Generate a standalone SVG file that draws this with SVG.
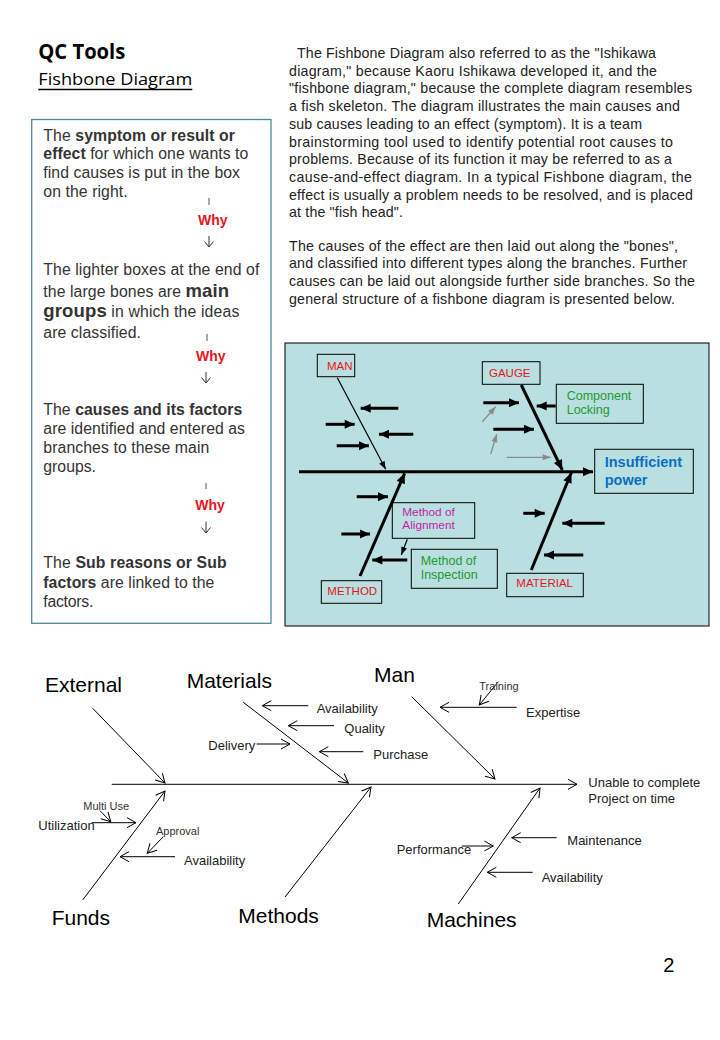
<svg xmlns="http://www.w3.org/2000/svg" width="720" height="1040" viewBox="0 0 720 1040">
<style>
.t{font-family:"Liberation Sans",Arial,sans-serif}
.panel{font-family:"Liberation Sans",Arial,sans-serif;font-size:15.8px;fill:#333}
.b{font-weight:bold}
.big{font-weight:bold;font-size:18.5px}
.why{font-family:"Liberation Sans",Arial,sans-serif;font-size:14px;font-weight:bold;fill:#e8141c}
.para{font-family:"Liberation Sans",Arial,sans-serif;font-size:14.2px;fill:#222}
.box{fill:none;stroke:#000;stroke-width:1}
.red{font-family:"Liberation Sans",Arial,sans-serif;font-size:11.5px;fill:#e8141c}
.grn{font-family:"Liberation Sans",Arial,sans-serif;font-size:12.5px;fill:#1e9a2e}
.mag{font-family:"Liberation Sans",Arial,sans-serif;font-size:11.8px;fill:#c21fa8}
.blu{font-family:"Liberation Sans",Arial,sans-serif;font-size:14.5px;font-weight:bold;fill:#0a6fc2}
.thick{stroke:#000;stroke-width:3;fill:none;marker-end:url(#solid)}
.thin{stroke:#000;stroke-width:1.2;fill:none;marker-end:url(#solidsm)}
.gray{stroke:#8a8a8a;stroke-width:1.3;fill:none;marker-end:url(#graysm)}
.ln{stroke:#000;stroke-width:1;fill:none;marker-end:url(#open)}
.lbl{font-family:"Liberation Sans",Arial,sans-serif;font-size:21px;fill:#000}
.mid{font-family:"Liberation Sans",Arial,sans-serif;font-size:13px;fill:#222}
.sm{font-family:"Liberation Sans",Arial,sans-serif;font-size:11px;fill:#333}
</style>
<defs>
<marker id="solid" markerUnits="userSpaceOnUse" markerWidth="11" markerHeight="10" refX="10" refY="4.5" orient="auto" overflow="visible"><path d="M0,0 L10,4.5 L0,9 z" fill="#000"/></marker>
<marker id="solidsm" markerUnits="userSpaceOnUse" markerWidth="9" markerHeight="7" refX="8" refY="3" orient="auto" overflow="visible"><path d="M0,0 L8,3 L0,6 z" fill="#000"/></marker>
<marker id="graysm" markerUnits="userSpaceOnUse" markerWidth="9" markerHeight="7" refX="8" refY="3" orient="auto" overflow="visible"><path d="M0,0 L8,3 L0,6 z" fill="#8a8a8a"/></marker>
<marker id="open" markerUnits="userSpaceOnUse" markerWidth="10" markerHeight="12" refX="9" refY="5" orient="auto" overflow="visible"><path d="M0,0 L9,5 L0,10" fill="none" stroke="#000" stroke-width="1"/></marker>
</defs>
<rect width="720" height="1040" fill="#fff"/>

<g id="title">
<text x="38.3" y="59.3" font-family="'Open Sans','Liberation Sans',sans-serif" font-size="21" font-weight="bold" textLength="87" lengthAdjust="spacingAndGlyphs">QC Tools</text>
<text x="38.3" y="85" font-family="'Open Sans','Liberation Sans',sans-serif" font-size="17" textLength="154" lengthAdjust="spacingAndGlyphs">Fishbone Diagram</text>
<line x1="38.3" y1="89.5" x2="192.3" y2="89.5" stroke="#000" stroke-width="1.3"/>
</g>

<g id="left-panel">
<rect x="31.7" y="119.5" width="239.3" height="503.8" fill="#fff" stroke="#4f8a94" stroke-width="1.3"/>
<text class="panel" x="43.3" y="140.7" textLength="191.7">The <tspan class="b">symptom or result or</tspan></text>
<text class="panel" x="43.3" y="159.3" textLength="205"><tspan class="b">effect</tspan> for which one wants to</text>
<text class="panel" x="43.3" y="178.3" textLength="196.7">find causes is put in the box</text>
<text class="panel" x="43.3" y="196.7" textLength="84.4">on the right.</text>
<line x1="209" y1="198" x2="209" y2="205" stroke="#555" stroke-width="1"/>
<text class="why" x="198" y="225">Why</text>
<path d="M209,236 V247 M204.5,241.5 L209,247 L213.5,241.5" stroke="#333" stroke-width="1" fill="none"/>
<text class="panel" x="43.3" y="275" textLength="216">The lighter boxes at the end of</text>
<text class="panel" x="43.3" y="296.7" textLength="185.7">the large bones are <tspan class="big">main</tspan></text>
<text class="panel" x="43.3" y="317.3" textLength="196"><tspan class="big">groups</tspan> in which the ideas</text>
<text class="panel" x="43.3" y="338.3" textLength="97.7">are classified.</text>
<line x1="207" y1="334" x2="207" y2="341" stroke="#555" stroke-width="1"/>
<text class="why" x="196" y="360.7">Why</text>
<path d="M206,372 V383 M201.5,377.5 L206,383 L210.5,377.5" stroke="#333" stroke-width="1" fill="none"/>
<text class="panel" x="43.3" y="415" textLength="199">The <tspan class="b">causes and its factors</tspan></text>
<text class="panel" x="43.3" y="434" textLength="201.7">are identified and entered as</text>
<text class="panel" x="43.3" y="452.7" textLength="166">branches to these main</text>
<text class="panel" x="43.3" y="471.7" textLength="52.7">groups.</text>
<line x1="206" y1="483" x2="206" y2="489" stroke="#555" stroke-width="1"/>
<text class="why" x="195.3" y="510">Why</text>
<path d="M206,521.5 V533 M201.5,527.5 L206,533 L210.5,527.5" stroke="#333" stroke-width="1" fill="none"/>
<text class="panel" x="43.3" y="568.3" textLength="183.4">The <tspan class="b">Sub reasons or Sub</tspan></text>
<text class="panel" x="43.3" y="588.3" textLength="171"><tspan class="b">factors</tspan> are linked to the</text>
<text class="panel" x="43.3" y="607.3" textLength="50">factors.</text>
</g>

<g id="intro-text">
<text class="para" x="297" y="58" textLength="359">The Fishbone Diagram also referred to as the "Ishikawa</text>
<text class="para" x="289" y="75.7" textLength="368">diagram," because Kaoru Ishikawa developed it, and the</text>
<text class="para" x="289" y="93.4" textLength="403">"fishbone diagram," because the complete diagram resembles</text>
<text class="para" x="289" y="111.1" textLength="391">a fish skeleton. The diagram illustrates the main causes and</text>
<text class="para" x="289" y="128.8" textLength="353">sub causes leading to an effect (symptom). It is a team</text>
<text class="para" x="289" y="146.5" textLength="384">brainstorming tool used to identify potential root causes to</text>
<text class="para" x="289" y="164.2" textLength="383">problems. Because of its function it may be referred to as a</text>
<text class="para" x="289" y="181.9" textLength="403">cause-and-effect diagram. In a typical Fishbone diagram, the</text>
<text class="para" x="289" y="199.6" textLength="404">effect is usually a problem needs to be resolved, and is placed</text>
<text class="para" x="289" y="217.3" textLength="114">at the "fish head".</text>
<text class="para" x="289" y="250.7" textLength="389">The causes of the effect are then laid out along the "bones",</text>
<text class="para" x="289" y="268.4" textLength="398">and classified into different types along the branches. Further</text>
<text class="para" x="289" y="286.1" textLength="406">causes can be laid out alongside further side branches. So the</text>
<text class="para" x="289" y="303.8" textLength="386">general structure of a fishbone diagram is presented below.</text>
</g>

<g id="example-diagram">
<rect x="285" y="343" width="424" height="283" fill="#b9dfe1" stroke="#000" stroke-width="1"/>
<g id="ex-connectors">
<line class="thick" x1="299" y1="471.7" x2="593" y2="471.7" stroke-width="3.5"/>
<line class="thin" x1="337.3" y1="377.7" x2="385.7" y2="469.3"/>
<line class="thick" x1="521.3" y1="385" x2="562.3" y2="470"/>
<line class="thick" x1="360" y1="576" x2="404.7" y2="473.3"/>
<line class="thick" x1="531.3" y1="570" x2="571.3" y2="472.7"/>
<line class="thick" x1="398.3" y1="408.3" x2="360.7" y2="408.3"/>
<line class="thick" x1="325.7" y1="424.3" x2="354.7" y2="424.3"/>
<line class="thick" x1="413.3" y1="434.3" x2="379" y2="434.3"/>
<line class="thick" x1="336.7" y1="445.7" x2="369" y2="445.7"/>
<line class="thick" x1="483.3" y1="402.7" x2="519" y2="402.7"/>
<line class="thick" x1="493.3" y1="429.3" x2="534" y2="429.3"/>
<line class="thick" x1="555.7" y1="406" x2="536.7" y2="406"/>
<line class="thick" x1="356.7" y1="496.7" x2="388" y2="496.7"/>
<line class="thick" x1="341.3" y1="534" x2="370" y2="534"/>
<line class="thick" x1="407.3" y1="560" x2="372.3" y2="560"/>
<line class="thick" x1="523.3" y1="513.3" x2="544.7" y2="513.3"/>
<line class="thick" x1="604.7" y1="523.3" x2="562.3" y2="523.3"/>
<line class="thick" x1="583.3" y1="555" x2="544" y2="555"/>
<line class="gray" x1="482.3" y1="421.7" x2="495.7" y2="406.7"/>
<line class="gray" x1="490.7" y1="454" x2="496.7" y2="434.3"/>
<line class="gray" x1="506.7" y1="457.3" x2="550.7" y2="457.3"/>
<line class="thin" x1="407.3" y1="539.3" x2="401.3" y2="555"/>
</g>
<g id="ex-man"><rect class="box" x="317.3" y="354.3" width="37.4" height="22.4"/><text class="red" x="327" y="370">MAN</text></g>
<g id="ex-gauge"><rect class="box" x="482.3" y="361.7" width="57.7" height="22.6"/><text class="red" x="489" y="377.3">GAUGE</text></g>
<g id="ex-component"><rect class="box" x="556.3" y="384.3" width="87" height="39"/><text class="grn" x="566.7" y="400">Component</text><text class="grn" x="566.7" y="414">Locking</text></g>
<g id="ex-effect"><rect class="box" x="594.7" y="449.3" width="98.6" height="44"/><text class="blu" x="604.7" y="467.3">Insufficient</text><text class="blu" x="604.7" y="485">power</text></g>
<g id="ex-alignment"><rect class="box" x="392.3" y="502.7" width="82.4" height="35.6"/><text class="mag" x="402.3" y="516">Method of</text><text class="mag" x="402.3" y="529.3">Alignment</text></g>
<g id="ex-inspection"><rect class="box" x="411.3" y="549.3" width="86" height="39"/><text class="grn" x="420.7" y="565">Method of</text><text class="grn" x="420.7" y="579.3">Inspection</text></g>
<g id="ex-method"><rect class="box" x="321.3" y="580.7" width="60.4" height="22.6"/><text class="red" x="327.3" y="595">METHOD</text></g>
<g id="ex-material"><rect class="box" x="506.7" y="573.3" width="76.6" height="23.4"/><text class="red" x="516.3" y="587.3">MATERIAL</text></g>
</g>

<g id="bottom-diagram">
<g id="connectors">
<line class="ln" x1="111.7" y1="784.3" x2="577" y2="784.3"/>
<line class="ln" x1="92.7" y1="708.3" x2="165" y2="783"/>
<line class="ln" x1="243.3" y1="702.3" x2="348.3" y2="783"/>
<line class="ln" x1="411.7" y1="696.7" x2="495" y2="779"/>
<line class="ln" x1="82.7" y1="900" x2="165" y2="791"/>
<line class="ln" x1="285" y1="897" x2="371" y2="787"/>
<line class="ln" x1="458.3" y1="904" x2="540" y2="788"/>
<line class="ln" x1="308.3" y1="705.7" x2="262.3" y2="705.7"/>
<line class="ln" x1="334" y1="725.7" x2="288.3" y2="725.7"/>
<line class="ln" x1="256.7" y1="744" x2="290" y2="744"/>
<line class="ln" x1="363.3" y1="751.7" x2="319.3" y2="751.7"/>
<line class="ln" x1="516.7" y1="707.3" x2="440" y2="707.3"/>
<line class="ln" x1="498.3" y1="681.7" x2="479.3" y2="705"/>
<line class="ln" x1="100" y1="810.7" x2="110.7" y2="821.7"/>
<line class="ln" x1="91.7" y1="822.7" x2="136" y2="822.7"/>
<line class="ln" x1="163.3" y1="836.7" x2="147.3" y2="853.3"/>
<line class="ln" x1="175" y1="856.7" x2="120" y2="856.7"/>
<line class="ln" x1="461.7" y1="846" x2="493.3" y2="846"/>
<line class="ln" x1="556.7" y1="837.7" x2="511.7" y2="837.7"/>
<line class="ln" x1="532.7" y1="872.3" x2="487.3" y2="872.3"/>
</g>
<g id="effect"><text class="mid" x="588.3" y="787" font-size="13.5">Unable to complete</text><text class="mid" x="588.3" y="803" font-size="13.5">Project on time</text></g>
<g id="external"><text class="lbl" x="45" y="691.5">External</text></g>
<g id="materials"><text class="lbl" x="186.7" y="688">Materials</text>
<text class="mid" x="316.7" y="713">Availability</text>
<text class="mid" x="344.3" y="733">Quality</text>
<text class="mid" x="208.3" y="750">Delivery</text>
<text class="mid" x="373.3" y="759">Purchase</text></g>
<g id="man"><text class="lbl" x="374" y="681.7">Man</text>
<text class="mid" x="526" y="717.3">Expertise</text>
<text class="sm" x="479.3" y="690">Training</text></g>
<g id="funds"><text class="lbl" x="51.7" y="925">Funds</text>
<text class="sm" x="83.3" y="810">Multi Use</text>
<text class="mid" x="38.3" y="830">Utilization</text>
<text class="sm" x="156" y="835">Approval</text>
<text class="mid" x="184" y="865">Availability</text></g>
<g id="methods"><text class="lbl" x="238.3" y="923.3">Methods</text></g>
<g id="machines"><text class="lbl" x="426.7" y="927.3">Machines</text>
<text class="mid" x="396.7" y="854">Performance</text>
<text class="mid" x="567.3" y="845">Maintenance</text>
<text class="mid" x="541.7" y="881.7">Availability</text></g>
</g>
<text class="t" x="663.3" y="971.7" font-size="20">2</text>
</svg>
